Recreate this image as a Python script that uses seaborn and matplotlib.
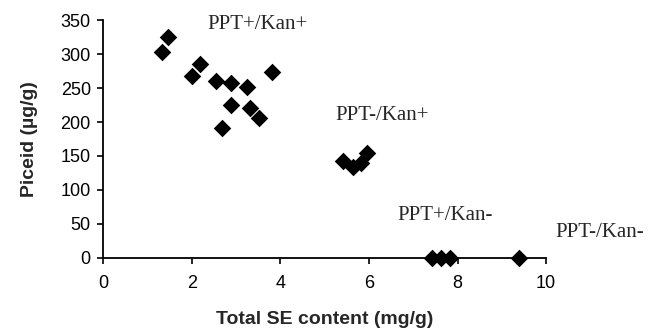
import matplotlib
matplotlib.use("Agg")
import matplotlib.pyplot as plt
import seaborn as sns
import pandas as pd

# Data
se_content = [1.32, 1.46, 2.01, 2.18, 2.54, 2.89, 3.24, 3.80, 2.89, 3.32, 3.51, 2.68,
              5.42, 5.63, 5.81, 5.95,
              7.43, 7.63, 7.84,
              9.38]
piceid = [303, 325, 267, 285, 261, 257, 251, 273, 225, 221, 206, 191,
          143, 134, 140, 155,
          0, 0, 0,
          0]

group_labels = ["PPT+/Kan+", "PPT-/Kan+", "PPT+/Kan-", "PPT-/Kan-"]
label_x = [2.35, 5.25, 6.65, 10.2]
label_y = [343, 210, 63, 38]

x_ticks = [0, 2, 4, 6, 8, 10]
y_ticks = [0, 50, 100, 150, 200, 250, 300, 350]

df = pd.DataFrame({"se": se_content, "piceid": piceid})

sns.set_style("white")
plt.rcParams['font.family'] = ['Liberation Sans', 'DejaVu Sans']

fig = plt.figure(figsize=(6.58, 3.29), dpi=100)
ax = fig.add_axes([0.157, 0.216, 0.673, 0.723])

sns.scatterplot(data=df, x="se", y="piceid", marker="D", s=80, color="black",
                edgecolor="black", linewidth=0, ax=ax, clip_on=False, zorder=3)

for lab, lx, ly in zip(group_labels, label_x, label_y):
    ax.text(lx, ly, lab, family="Liberation Serif", fontsize=15,
            ha="left", va="center", clip_on=False)

ax.set_xlim(0, 10)
ax.set_ylim(0, 350)
ax.set_xticks(x_ticks)
ax.set_yticks(y_ticks)
ax.tick_params(axis="both", direction="out", length=4, width=1.2, pad=5,
               labelsize=13, colors="black", left=True, bottom=True)
ax.tick_params(axis="x", pad=8)
for side in ["top", "right"]:
    ax.spines[side].set_visible(False)
for side in ["left", "bottom"]:
    ax.spines[side].set_color("black")
    ax.spines[side].set_linewidth(1.3)

ax.set_xlabel("Total SE content (mg/g)", fontsize=14, fontweight="bold", labelpad=14)
ax.set_ylabel("Piceid (\u00b5g/g)", fontsize=14, fontweight="bold", labelpad=16)

fig.savefig("out.png", dpi=100)
